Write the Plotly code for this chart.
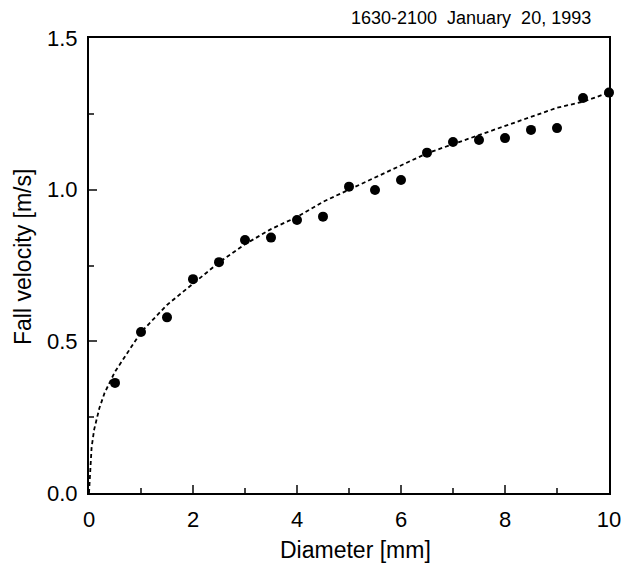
import plotly.graph_objects as go

# Observed fall velocities
diameter_mm = [0.5, 1.0, 1.5, 2.0, 2.5, 3.0, 3.5, 4.0, 4.5, 5.0, 5.5, 6.0, 6.5, 7.0, 7.5, 8.0, 8.5, 9.0, 9.5, 10.0]
velocity_ms = [0.363, 0.531, 0.579, 0.705, 0.761, 0.834, 0.842, 0.900, 0.911, 1.010, 0.999, 1.032, 1.122, 1.157, 1.164, 1.170, 1.197, 1.203, 1.302, 1.320]

# Dashed fit curve
fit_d = [0, 0.05, 0.1, 0.2, 0.3, 0.5, 1.0, 1.5, 2.0, 2.5, 3.0, 3.5, 4.0, 4.5, 5.0, 5.5, 6.0, 6.5, 7.0, 7.5, 8.0, 8.5, 9.0, 9.5, 10.0]
fit_v = [0, 0.15, 0.21, 0.28, 0.33, 0.40, 0.53, 0.62, 0.69, 0.76, 0.82, 0.87, 0.91, 0.96, 1.00, 1.04, 1.08, 1.12, 1.15, 1.18, 1.21, 1.24, 1.27, 1.29, 1.32]

x_ticks = [0, 2, 4, 6, 8, 10]
y_ticks = [0.0, 0.5, 1.0, 1.5]

title_text = "1630-2100  January  20, 1993"

FONT = "Liberation Sans, Arial, Helvetica, sans-serif"

fig = go.Figure()
fig.add_trace(go.Scatter(x=fit_d, y=fit_v, mode="lines",
                         line=dict(color="black", width=1.8, dash="4px,3px"),
                         showlegend=False, hoverinfo="skip"))
fig.add_trace(go.Scatter(x=diameter_mm, y=velocity_ms, mode="markers",
                         marker=dict(color="black", size=10),
                         showlegend=False, cliponaxis=False))

fig.update_layout(
    width=637, height=564,
    margin=dict(l=89, r=28, t=38, b=71),
    paper_bgcolor="white", plot_bgcolor="white",
    font=dict(family=FONT, size=22, color="black"),
    annotations=[
        dict(text=title_text, xref="paper", yref="paper",
             x=0.969, y=1.044, xanchor="right", yanchor="middle",
             showarrow=False, font=dict(size=18, family=FONT)),
        dict(text="Diameter [mm]", xref="paper", yref="paper",
             x=(355 - 89) / 520, y=-(550 - 493) / 455, xanchor="center", yanchor="middle",
             showarrow=False, font=dict(size=23, family=FONT)),
        dict(text="Fall velocity [m/s]", xref="paper", yref="paper", textangle=-90,
             x=-(89 - 23) / 520, y=(493 - 257) / 455, xanchor="center", yanchor="middle",
             showarrow=False, font=dict(size=23, family=FONT)),
    ],
)
fig.update_xaxes(range=[0, 10], tickvals=x_ticks, ticks="inside", ticklen=8, tickwidth=1.5,
                 showline=True, linecolor="black", linewidth=2, mirror=True,
                 showgrid=False, zeroline=False, ticklabelstandoff=6,
                 minor=dict(tickvals=[1, 3, 5, 7, 9], ticks="inside", ticklen=5, tickwidth=1.5),
                 tickfont=dict(size=22))
fig.update_yaxes(range=[0, 1.5], tickvals=y_ticks, tickformat=".1f", ticks="inside", ticklen=8, tickwidth=1.5,
                 showline=True, linecolor="black", linewidth=2, mirror=True,
                 showgrid=False, zeroline=False, ticklabelstandoff=5,
                 minor=dict(tickvals=[0.25, 0.75, 1.25], ticks="inside", ticklen=5, tickwidth=1.5),
                 tickfont=dict(size=22))

fig.write_html("out.html", config={"displayModeBar": False},
               post_script="document.body.style.margin='0';")
